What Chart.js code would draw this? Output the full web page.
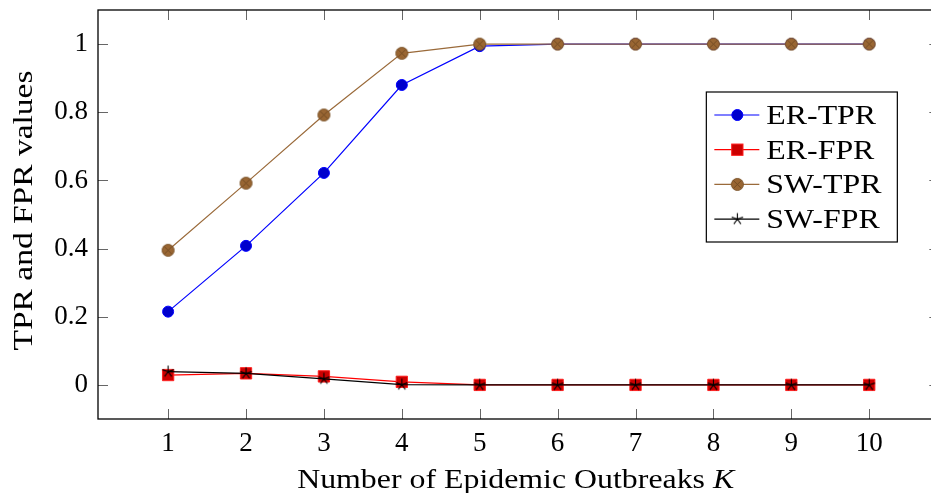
<!DOCTYPE html>
<html>
<head>
<meta charset="utf-8">
<script src="https://cdn.jsdelivr.net/npm/chart.js@4.4.1/dist/chart.umd.min.js"></script>
<style>
  html, body { margin: 0; padding: 0; background: #fff; overflow: hidden; }
  #wrap { position: relative; width: 931px; height: 493px; }
</style>
</head>
<body>
<div id="wrap"><canvas id="chart" width="931" height="493"></canvas></div>
<script>
// values
const kValues = [1, 2, 3, 4, 5, 6, 7, 8, 9, 10];
const erTpr = [0.215, 0.408, 0.622, 0.880, 0.994, 1, 1, 1, 1, 1];
const erFpr = [0.029, 0.034, 0.025, 0.009, 0, 0, 0, 0, 0, 0];
const swTpr = [0.395, 0.592, 0.792, 0.973, 1, 1, 1, 1, 1, 1];
const swFpr = [0.039, 0.034, 0.018, 0.001, 0, 0, 0, 0, 0, 0];
const xTicks = [1, 2, 3, 4, 5, 6, 7, 8, 9, 10];
const yTicks = [0, 0.2, 0.4, 0.6, 0.8, 1];

// the original axis runs to 10.9 but the picture is cut at about 10.79
const X_MIN = 0.1, X_MAX_VISIBLE = 10.793, X_MAX_AXIS = 10.9;

const FONT_FAMILY = "'Liberation Serif', 'Times New Roman', serif";
const FONT_SIZE = 27;
const TEXT_STRETCH = 1.18; // computer modern is wider than liberation

function toPoints(ys) {
  return kValues.map((k, i) => ({ x: k, y: ys[i] }));
}

// pgfplots "otimes*" marker
function makeOtimes() {
  const c = document.createElement('canvas');
  c.width = 15; c.height = 15;
  const g = c.getContext('2d');
  const r = 6;
  g.beginPath();
  g.arc(7.5, 7.5, r, 0, Math.PI * 2);
  g.fillStyle = '#996633';
  g.fill();
  g.lineWidth = 1;
  g.strokeStyle = '#7a5228';
  g.stroke();
  const d = r * Math.SQRT1_2;
  g.beginPath();
  g.moveTo(7.5 - d, 7.5 - d); g.lineTo(7.5 + d, 7.5 + d);
  g.moveTo(7.5 + d, 7.5 - d); g.lineTo(7.5 - d, 7.5 + d);
  g.lineWidth = 0.8;
  g.strokeStyle = '#6b4520';
  g.stroke();
  return c;
}

// pgfplots "star" marker (5 spokes)
function makeStar() {
  const c = document.createElement('canvas');
  c.width = 15; c.height = 15;
  const g = c.getContext('2d');
  g.beginPath();
  for (let i = 0; i < 5; i++) {
    const a = -Math.PI / 2 + i * 2 * Math.PI / 5;
    g.moveTo(7.5, 7.5);
    g.lineTo(7.5 + 6 * Math.cos(a), 7.5 + 6 * Math.sin(a));
  }
  g.lineWidth = 1.1;
  g.strokeStyle = '#000';
  g.stroke();
  return c;
}

const otimesImg = makeOtimes();
const starImg = makeStar();

// draws text stretched horizontally, x is the left edge
function wideText(ctx, text, x, y, italic, stretch = TEXT_STRETCH) {
  ctx.save();
  ctx.font = `${italic ? 'italic ' : ''}${FONT_SIZE}px ${FONT_FAMILY}`;
  ctx.translate(x, y);
  ctx.scale(stretch, 1);
  ctx.fillText(text, 0, 0);
  ctx.restore();
}

function wideWidth(ctx, text, italic, stretch = TEXT_STRETCH) {
  ctx.save();
  ctx.font = `${italic ? 'italic ' : ''}${FONT_SIZE}px ${FONT_FAMILY}`;
  const w = ctx.measureText(text).width * stretch;
  ctx.restore();
  return w;
}

const boxAndTicks = {
  id: 'boxAndTicks',
  afterDatasetsDraw(chart) {
    const { ctx, chartArea: a, scales } = chart;
    const right = scales.x.getPixelForValue(X_MAX_AXIS);
    ctx.save();
    ctx.strokeStyle = '#666';
    ctx.lineWidth = 1;
    ctx.beginPath();
    xTicks.forEach(v => {
      const px = Math.round(scales.x.getPixelForValue(v)) + 0.5;
      ctx.moveTo(px, a.bottom); ctx.lineTo(px, a.bottom - 10);
      ctx.moveTo(px, a.top); ctx.lineTo(px, a.top + 10);
    });
    yTicks.forEach(v => {
      const py = Math.round(scales.y.getPixelForValue(v)) + 0.5;
      ctx.moveTo(a.left, py); ctx.lineTo(a.left + 10, py);
      ctx.moveTo(right, py); ctx.lineTo(right - 10, py);
    });
    ctx.stroke();
    ctx.strokeStyle = '#000';
    ctx.lineWidth = 1.3;
    ctx.strokeRect(a.left, a.top, right - a.left, a.bottom - a.top);

    ctx.fillStyle = '#000';
    ctx.textBaseline = 'alphabetic';
    ctx.textAlign = 'left';

    // x axis title with italic K
    const main = 'Number of Epidemic Outbreaks ';
    const w1 = wideWidth(ctx, main, false);
    const w2 = wideWidth(ctx, 'K', true);
    const x0 = (a.left + right) / 2 - (w1 + w2) / 2 - 3;
    wideText(ctx, main, x0, 488, false);
    wideText(ctx, 'K', x0 + w1, 488, true);

    // y axis title, rotated
    const yt = 'TPR and FPR values';
    const wy = wideWidth(ctx, yt, false, 1.24);
    ctx.save();
    ctx.translate(32, (a.top + a.bottom) / 2 - 4);
    ctx.rotate(-Math.PI / 2);
    wideText(ctx, yt, -wy / 2, 0, false, 1.24);
    ctx.restore();
    ctx.restore();
  }
};

const boxLegend = {
  id: 'boxLegend',
  afterDraw(chart) {
    const { ctx, chartArea: a, scales } = chart;
    const right = scales.x.getPixelForValue(X_MAX_AXIS);
    const left = right - 233, top = a.top + 82, w = 191, h = 150;
    ctx.save();
    ctx.fillStyle = '#fff';
    ctx.fillRect(left, top, w, h);
    ctx.strokeStyle = '#000';
    ctx.lineWidth = 1.2;
    ctx.strokeRect(left, top, w, h);
    ctx.textBaseline = 'alphabetic';
    ctx.textAlign = 'left';
    chart.data.datasets.forEach((ds, i) => {
      const y = top + 23 + i * 34.7;
      ctx.beginPath();
      ctx.moveTo(left + 8, y); ctx.lineTo(left + 53, y);
      ctx.strokeStyle = ds.borderColor;
      ctx.lineWidth = ds.borderWidth;
      ctx.stroke();
      const mx = left + 31;
      const st = ds.pointStyle;
      if (st === 'circle') {
        ctx.beginPath();
        ctx.arc(mx, y, ds.pointRadius, 0, Math.PI * 2);
        ctx.fillStyle = ds.pointBackgroundColor;
        ctx.fill();
        ctx.lineWidth = ds.pointBorderWidth;
        ctx.strokeStyle = ds.pointBorderColor;
        ctx.stroke();
      } else if (st === 'rect') {
        const s = ds.pointRadius * Math.SQRT1_2;
        ctx.fillStyle = ds.pointBackgroundColor;
        ctx.fillRect(mx - s, y - s, 2 * s, 2 * s);
        ctx.lineWidth = ds.pointBorderWidth;
        ctx.strokeStyle = ds.pointBorderColor;
        ctx.strokeRect(mx - s, y - s, 2 * s, 2 * s);
      } else {
        ctx.drawImage(st, mx - st.width / 2, y - st.height / 2);
      }
      ctx.fillStyle = '#000';
      wideText(ctx, ds.label, left + 60, y + 9, false);
    });
    ctx.restore();
  }
};

const ctx = document.getElementById('chart').getContext('2d');
const chart = new Chart(ctx, {
  type: 'line',
  data: {
    datasets: [
      {
        label: 'ER-TPR', data: toPoints(erTpr), order: 3,
        borderColor: '#0000ff', borderWidth: 1.2,
        pointStyle: 'circle', pointRadius: 5.5,
        pointBackgroundColor: '#0000cc', pointBorderColor: '#0000ff', pointBorderWidth: 1
      },
      {
        label: 'ER-FPR', data: toPoints(erFpr), order: 2,
        borderColor: '#ff0000', borderWidth: 1.2,
        pointStyle: 'rect', pointRadius: 8,
        pointBackgroundColor: '#cc0000', pointBorderColor: '#ff2020', pointBorderWidth: 1
      },
      {
        label: 'SW-TPR', data: toPoints(swTpr), order: 1,
        borderColor: '#9a6a3a', borderWidth: 1.2,
        pointStyle: otimesImg, pointRadius: 6
      },
      {
        label: 'SW-FPR', data: toPoints(swFpr), order: 0,
        borderColor: '#000000', borderWidth: 1.2,
        pointStyle: starImg, pointRadius: 6
      }
    ]
  },
  options: {
    responsive: false,
    animation: false,
    layout: { autoPadding: false, padding: { top: 10, right: 0, left: 0, bottom: 0 } },
    elements: { line: { tension: 0, fill: false } },
    plugins: { legend: { display: false }, tooltip: { enabled: false } },
    scales: {
      x: {
        type: 'linear', min: X_MIN, max: X_MAX_VISIBLE,
        afterBuildTicks: axis => { axis.ticks = xTicks.map(v => ({ value: v })); },
        afterFit: axis => {
          axis.height = 74;
          axis.paddingLeft = 0; axis.paddingRight = 0;
        },
        grid: { display: false, drawTicks: false },
        border: { display: false },
        ticks: {
          color: '#000', padding: 9, maxRotation: 0,
          font: { family: FONT_FAMILY, size: FONT_SIZE },
          callback: v => String(v)
        }
      },
      y: {
        type: 'linear', min: -0.1, max: 1.1,
        afterBuildTicks: axis => { axis.ticks = yTicks.map(v => ({ value: v })); },
        afterFit: axis => {
          axis.width = 98;
          axis.paddingTop = 0; axis.paddingBottom = 0;
        },
        grid: { display: false, drawTicks: false },
        border: { display: false },
        ticks: {
          color: '#000', padding: 10,
          font: { family: FONT_FAMILY, size: FONT_SIZE },
          callback: v => String(v)
        }
      }
    }
  },
  plugins: [boxAndTicks, boxLegend]
});
</script>
</body>
</html>
